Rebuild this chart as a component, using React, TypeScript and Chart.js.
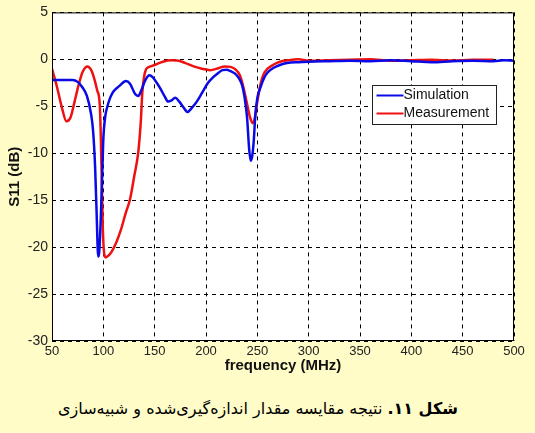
import React, { useEffect, useRef } from "react";
import { Chart, registerables } from "chart.js";

Chart.register(...registerables);

const simFreq = [50, 60, 70, 75, 79, 84, 88, 90, 92, 93.5, 95, 96, 97.5, 99, 100, 102, 104, 107, 110, 116, 122, 126, 131, 134, 137, 141, 145, 148, 152, 156, 160, 163, 166, 170, 174, 178, 182, 186, 191, 196, 202, 207, 212, 216, 220, 224, 228, 232, 235, 237.5, 240, 242, 243.5, 245, 246.5, 248, 250, 253, 256.5, 260, 266, 272, 279, 290, 300, 320, 340, 360, 380, 400, 420, 440, 460, 480, 490, 500];
const simS11 = [-2.2, -2.2, -2.2, -2.4, -2.9, -3.9, -5.8, -7.6, -11.5, -16.5, -21, -20.5, -17, -12, -8.5, -6, -5, -4, -3.4, -2.8, -2.3, -2.6, -3.7, -3.9, -3.3, -2.2, -1.7, -1.9, -2.5, -3.2, -4.0, -4.5, -4.4, -4.1, -4.5, -5.1, -5.6, -5.2, -4.5, -3.6, -2.5, -1.9, -1.45, -1.15, -1.1, -1.25, -1.5, -2.0, -2.7, -4.0, -6.2, -9.5, -10.8, -10.3, -8.7, -6.0, -4.1, -3.0, -2.0, -1.4, -0.9, -0.6, -0.4, -0.3, -0.25, -0.2, -0.15, -0.2, -0.1, -0.2, -0.3, -0.2, -0.15, -0.2, -0.1, -0.15];

const measFreq = [50, 55, 60, 64, 68, 72, 76, 80, 84.5, 88, 91, 94, 96.5, 97.5, 98.5, 99.5, 101, 102.5, 105, 108, 113, 117, 122, 126, 130, 134, 136.5, 138, 139.5, 142, 146, 151, 158, 166, 172, 180, 188, 196, 204, 212, 218, 224, 229, 233, 236.5, 239.5, 243, 245.5, 247.5, 250, 253, 256, 260, 266, 272, 280, 290, 300, 320, 340, 360, 380, 400, 420, 440, 460, 480];
const measS11 = [-1.0, -3.0, -5.3, -6.6, -6.2, -4.5, -2.7, -1.3, -0.75, -1.1, -2.0, -3.3, -4.8, -8, -13, -18, -20.8, -21.1, -20.9, -20.5, -19.4, -18.2, -16.3, -14.9, -12.5, -9.9, -6.6, -3.5, -2.0, -1.0, -0.75, -0.55, -0.25, -0.1, -0.12, -0.4, -0.75, -1.0, -1.15, -0.95, -0.75, -0.8, -1.1, -1.7, -3.0, -4.5, -6.2, -6.8, -6.3, -4.5, -2.7, -1.6, -1.0, -0.55, -0.25, -0.1, 0, -0.15, -0.1, -0.05, 0, -0.15, -0.1, -0.05, -0.12, -0.05, -0.05];

const seriesNames = ["Simulation", "Measurement"];
const seriesColors = ["#0a0ae6", "#ee1111"];

const xTitle = "frequency (MHz)";
const yTitle = "S11 (dB)";
const captionBold = "شکل ۱۱.";
const captionRest = " نتیجه مقایسه مقدار اندازه‌گیری‌شده و شبیه‌سازی";

const FONT = "'Liberation Sans', Arial, Helvetica, sans-serif";

const plotBgAndFrame = {
  id: "plotBgAndFrame",
  beforeDraw(chart: any) {
    const { ctx, chartArea } = chart;
    ctx.save();
    ctx.fillStyle = "#ffffff";
    ctx.fillRect(chartArea.left, chartArea.top, chartArea.right - chartArea.left, chartArea.bottom - chartArea.top);
    ctx.restore();
  },
  afterDraw(chart: any) {
    const { ctx, chartArea } = chart;
    ctx.save();
    ctx.strokeStyle = "#000000";
    ctx.lineWidth = 1;
    ctx.setLineDash([]);
    ctx.strokeRect(chartArea.left + 0.5, chartArea.top + 0.5, chartArea.right - chartArea.left - 1, chartArea.bottom - chartArea.top - 1);
    // legend box
    const xs = chart.scales.x;
    const ys = chart.scales.y;
    const bx = Math.round(xs.getPixelForValue(361.5)) + 0.5;
    const by = Math.round(ys.getPixelForValue(-2.7)) + 0.5;
    const bw = 124;
    const bh = 39;
    ctx.fillStyle = "#ffffff";
    ctx.fillRect(bx, by, bw, bh);
    ctx.strokeStyle = "#222222";
    ctx.strokeRect(bx, by, bw, bh);
    ctx.font = "14px " + FONT;
    ctx.textBaseline = "middle";
    ctx.textAlign = "left";
    for (let i = 0; i < seriesNames.length; i++) {
      const ly = by + 10 + i * 18;
      ctx.strokeStyle = seriesColors[i];
      ctx.lineWidth = 2;
      ctx.beginPath();
      ctx.moveTo(bx + 4, ly);
      ctx.lineTo(bx + 31, ly);
      ctx.stroke();
      ctx.fillStyle = "#111111";
      ctx.fillText(seriesNames[i], bx + 31, ly);
    }
    ctx.restore();
  },
};

export default function App() {
  const canvasRef = useRef<HTMLCanvasElement | null>(null);

  useEffect(() => {
    const canvas = canvasRef.current;
    if (!canvas) return;
    const chart = new Chart(canvas, {
      type: "line",
      data: {
        datasets: [
          {
            label: seriesNames[0],
            data: simFreq.map((f, i) => ({ x: f, y: simS11[i] })),
            borderColor: seriesColors[0],
            borderWidth: 2.5,
            pointRadius: 0,
            cubicInterpolationMode: "monotone",
          },
          {
            label: seriesNames[1],
            data: measFreq.map((f, i) => ({ x: f, y: measS11[i] })),
            borderColor: seriesColors[1],
            borderWidth: 2.5,
            pointRadius: 0,
            cubicInterpolationMode: "monotone",
          },
        ],
      },
      options: {
        animation: false,
        responsive: false,
        layout: { padding: { top: 11, right: 21, left: 0, bottom: 0 } },
        plugins: {
          legend: { display: false },
          tooltip: { enabled: false },
        },
        scales: {
          x: {
            type: "linear",
            min: 50,
            max: 500,
            afterFit: (s: any) => { s.height = 44; },
            ticks: { stepSize: 50, padding: 3, color: "#222", font: { family: FONT, size: 13 }, maxRotation: 0 },
            grid: { color: "#000", lineWidth: 1, drawTicks: false },
            border: { display: false, dash: [4, 4] },
            title: { display: true, text: xTitle, color: "#111", font: { family: FONT, size: 15, weight: "bold" }, padding: { top: 0, bottom: 10 } },
          },
          y: {
            type: "linear",
            min: -30,
            max: 5,
            afterFit: (s: any) => { s.width = 52; },
            ticks: { stepSize: 5, padding: 4, color: "#222", font: { family: FONT, size: 14 } },
            grid: { color: "#000", lineWidth: 1, drawTicks: false },
            border: { display: false, dash: [4, 4] },
            title: { display: true, text: yTitle, color: "#111", font: { family: FONT, size: 15, weight: "bold" }, padding: { top: 6, bottom: 0 } },
          },
        },
      },
      plugins: [plotBgAndFrame],
    });
    return () => chart.destroy();
  }, []);

  return (
    <div style={{ position: "absolute", left: 0, top: 0, width: 535, height: 433, background: "#fffcc8", overflow: "hidden" }}>
      <canvas ref={canvasRef} width={535} height={385} style={{ display: "block", width: 535, height: 385 }} />
      <div
        dir="rtl"
        style={{
          position: "absolute",
          left: 0,
          top: 396,
          width: 516,
          textAlign: "center",
          fontFamily: "'DejaVu Sans', sans-serif",
          fontSize: 16,
          lineHeight: "26px",
          color: "#000",
        }}
      >
        <b>{captionBold}</b>
        {captionRest}
      </div>
    </div>
  );
}
